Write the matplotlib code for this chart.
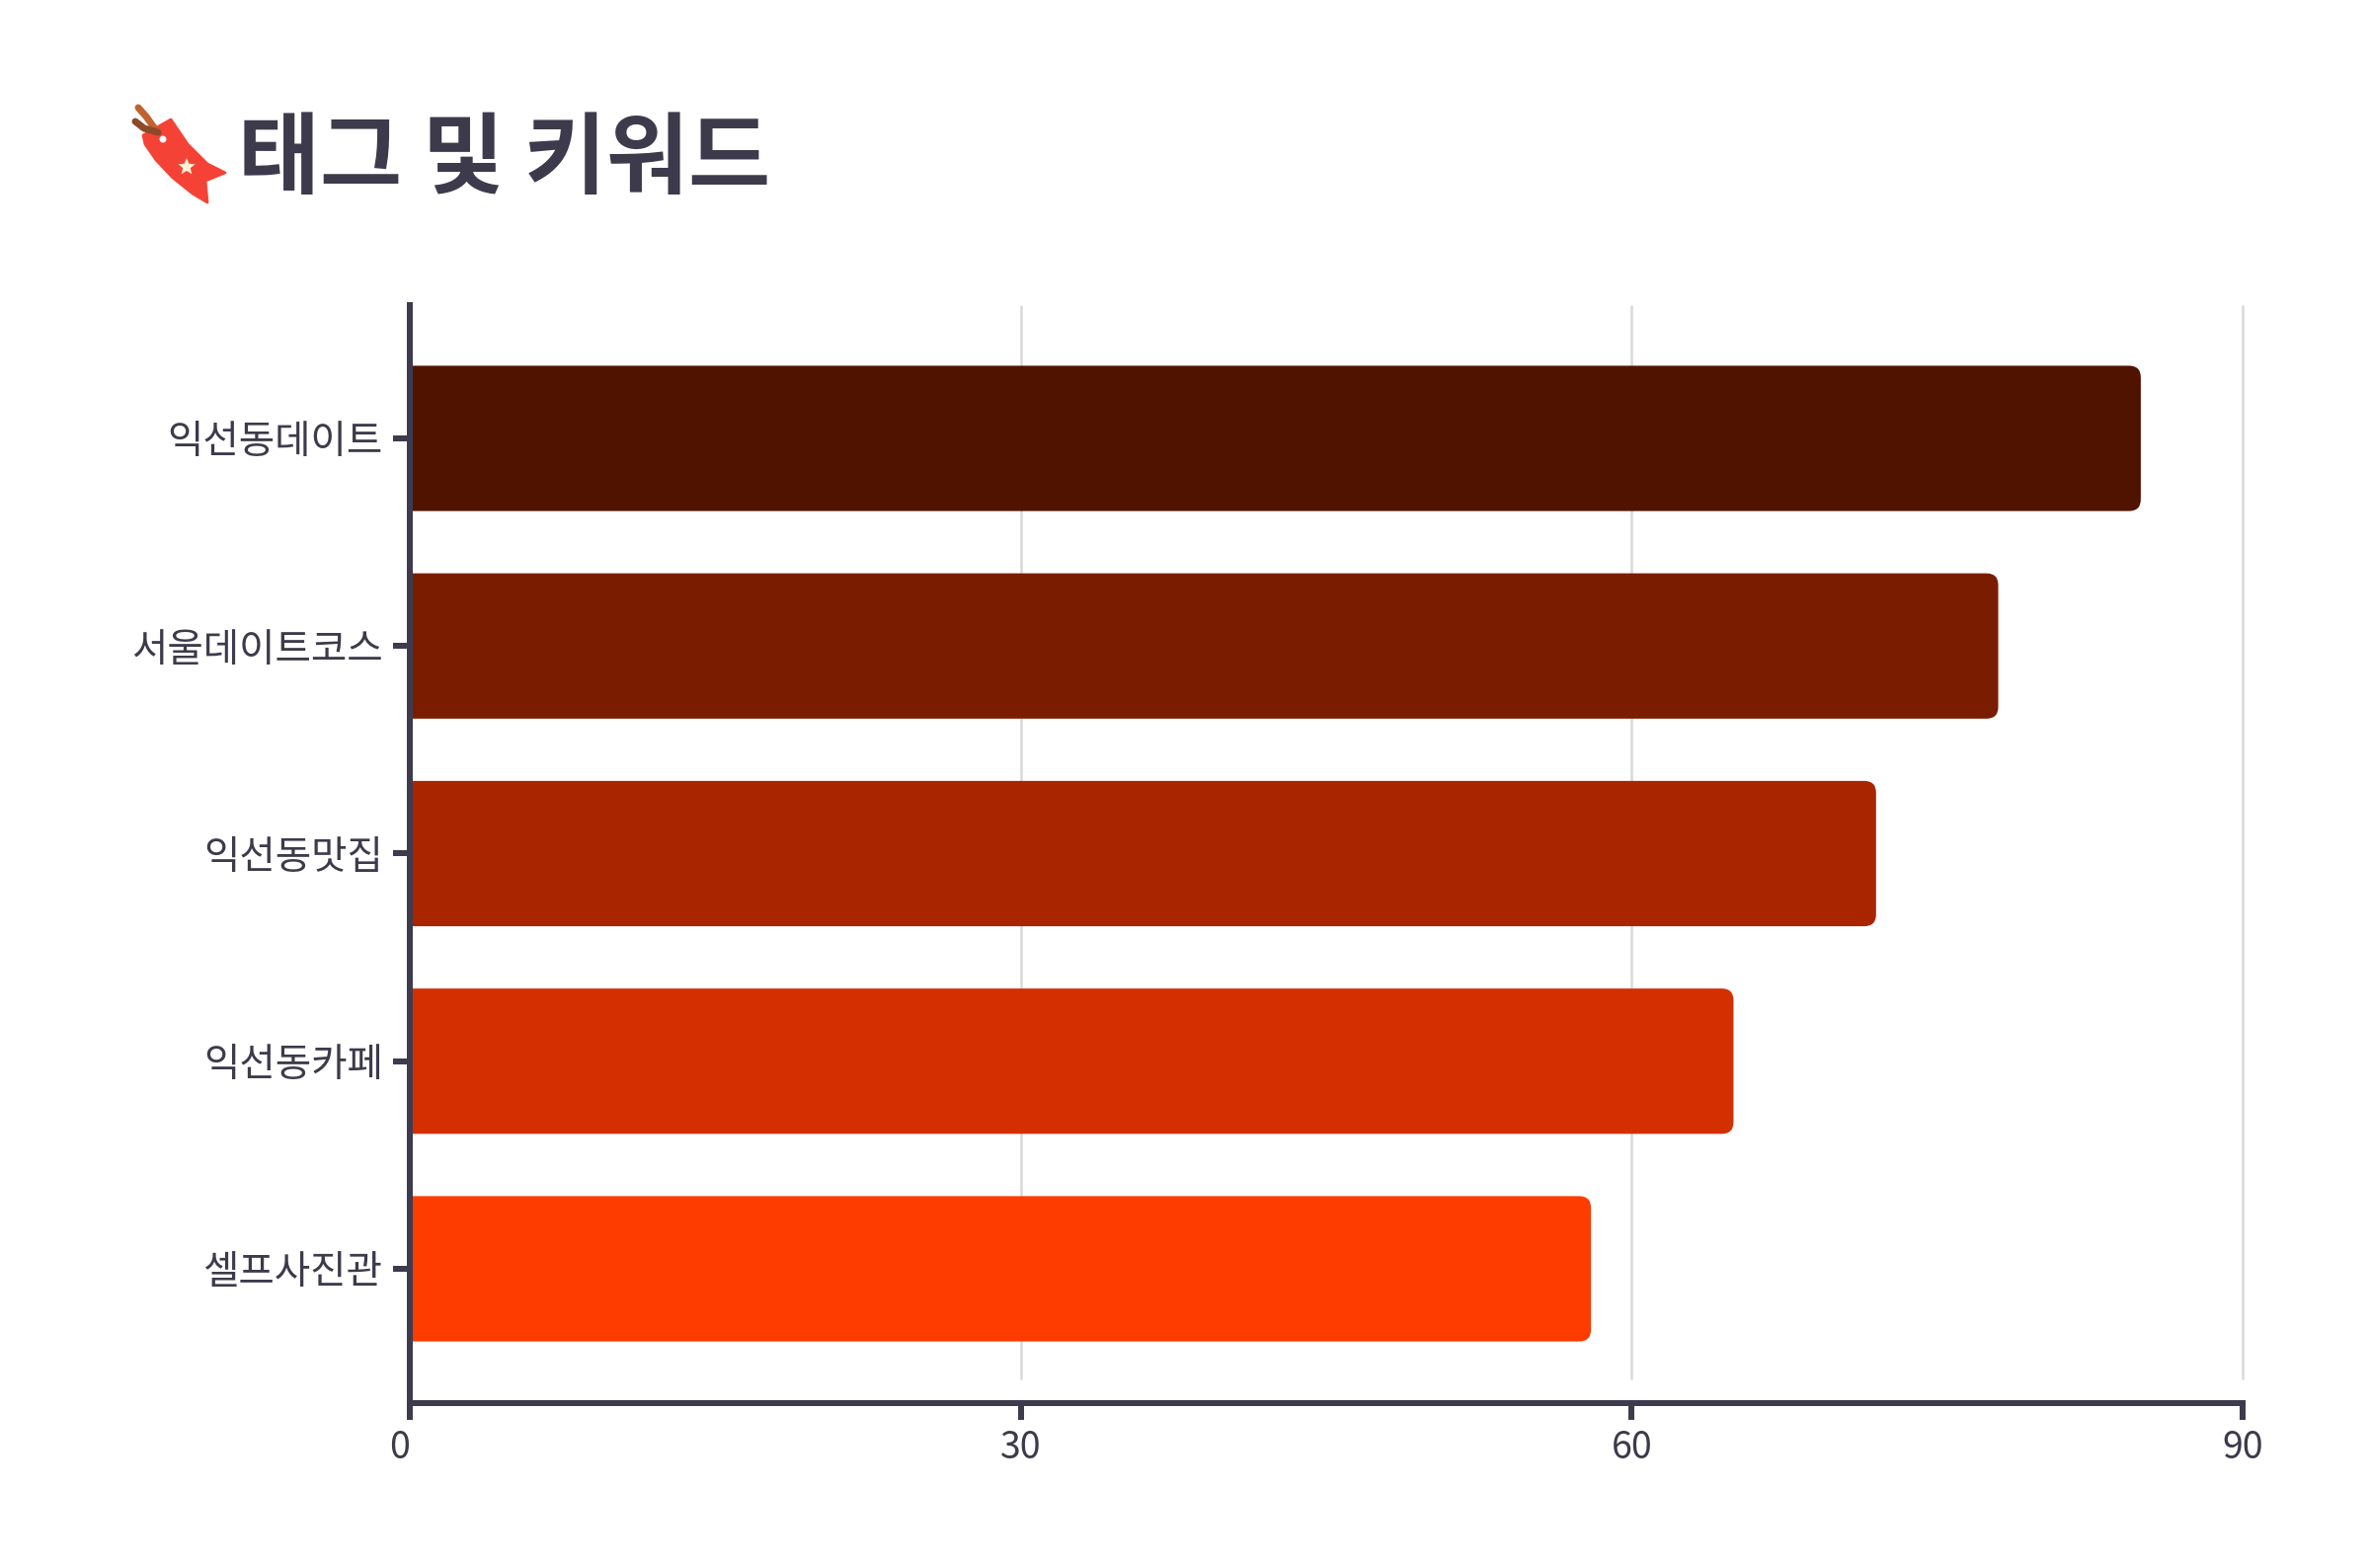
import matplotlib
matplotlib.use("Agg")
import matplotlib.pyplot as plt
from matplotlib.patches import FancyBboxPatch, Polygon, Circle
import numpy as np

plt.rcParams['font.family'] = ['Noto Sans CJK KR', 'DejaVu Sans']

# ---- data ----
categories = ["익선동데이트", "서울데이트코스", "익선동맛집", "익선동카페", "셀프사진관"]
values = [85, 78, 72, 65, 58]
bar_colors = ["#501300", "#7a1c00", "#a82500", "#d42f00", "#ff3c00"]
x_ticks = [0, 30, 60, 90]
x_tick_labels = ["0", "30", "60", "90"]
title = "태그 및 키워드"

TEXT = "#3d3a4b"
AXIS = "#3f3b4e"
GRID = "#d9d9d9"

W, H, DPI = 2400, 1588, 100
fig = plt.figure(figsize=(W / DPI, H / DPI), dpi=DPI)
fig.patch.set_facecolor("white")

def px(v):  # pixels -> points
    return v * 72.0 / DPI

# axes placement (pixels)
ax_l, ax_r, ax_t, ax_b = 415, 2271, 309, 1421
ax = fig.add_axes([ax_l / W, (H - ax_b) / H, (ax_r - ax_l) / W, (ax_b - ax_t) / H])

ypos = np.arange(len(categories))
ax.set_xlim(0, 90)
ax.set_ylim(len(categories) - 1 + 0.647, -0.642)

bars = ax.barh(ypos, values, height=0.70, color=bar_colors, zorder=2)

# rounded right corners
fig.canvas.draw()
inv = ax.transData.inverted()
p0 = inv.transform((0, 0))
p1 = inv.transform((1, 1))
xu = abs(p1[0] - p0[0])   # data x per pixel
yu = abs(p1[1] - p0[1])   # data y per pixel
r_px = 12
r = r_px * xu
for b in bars:
    x, y, w, h = b.get_x(), b.get_y(), b.get_width(), b.get_height()
    b.set_visible(False)
    fb = FancyBboxPatch((x - 2 * r, y), w + 2 * r, h,
                        boxstyle=f"round,pad=0,rounding_size={r}",
                        mutation_aspect=yu / xu,
                        facecolor=b.get_facecolor(), edgecolor="none",
                        zorder=2)
    ax.add_patch(fb)

# gridlines (stop short of the x axis line)
ax.vlines(x_ticks[1:], 24 / (ax_b - ax_t), 1, transform=ax.get_xaxis_transform(),
          colors=GRID, linewidth=px(2.5), zorder=1, clip_on=False)

# spines
for s in ["top", "right"]:
    ax.spines[s].set_visible(False)
for s in ["left", "bottom"]:
    ax.spines[s].set_color(AXIS)
    ax.spines[s].set_linewidth(px(6))
    ax.spines[s].set_zorder(3)

ax.set_yticks(ypos)
ax.set_yticklabels(categories)
ax.set_xticks(x_ticks)
ax.set_xticklabels(x_tick_labels)
ax.tick_params(axis="y", length=px(17), width=px(6), color=AXIS, pad=px(10),
               labelsize=28.5, labelcolor=TEXT)
ax.tick_params(axis="x", length=px(17), width=px(6), color=AXIS, pad=px(9),
               labelsize=27, labelcolor=TEXT)
ax.get_xticklabels()[0].set_horizontalalignment("right")

# ---- title ----
fig.text(241 / W, 1 - 189 / H, title, fontsize=65, fontweight="bold",
         color=TEXT, ha="left", va="baseline")

# ---- tag icon (decorative) ----
iax = fig.add_axes([0, 0, 1, 1], zorder=5)
iax.set_xlim(0, W)
iax.set_ylim(H, 0)
iax.axis("off")
ox, oy = 120, 90
body = [(25, 47), (53, 31), (70, 56), (90, 76), (108, 85), (88, 93),
        (90, 115), (75, 106), (55, 90), (38, 72), (27, 56)]
iax.add_patch(Polygon([(ox + a, oy + b) for a, b in body], closed=True,
                      facecolor="#f44336", edgecolor="#f44336", linewidth=2,
                      joinstyle="round"))
iax.add_patch(Circle((ox + 45, oy + 51), 3.5, facecolor="white", edgecolor="none"))
# star
ang = np.linspace(np.pi / 2, np.pi / 2 + 2 * np.pi, 11)[:-1]
rad = np.array([9 if i % 2 == 0 else 4 for i in range(10)])
star = np.column_stack([ox + 69 + rad * np.cos(ang), oy + 79 - rad * np.sin(ang)])
iax.add_patch(Polygon(star, closed=True, facecolor="#fdf0d5", edgecolor="none"))
# string
iax.plot([ox + 20, ox + 28, ox + 38], [oy + 19, oy + 28, oy + 42],
         color="#c0632e", linewidth=px(7), solid_capstyle="round")
iax.plot([ox + 17, ox + 26, ox + 40], [oy + 33, oy + 40, oy + 44],
         color="#8b4a2a", linewidth=px(7), solid_capstyle="round")

fig.savefig("out.png", dpi=DPI, facecolor="white")
